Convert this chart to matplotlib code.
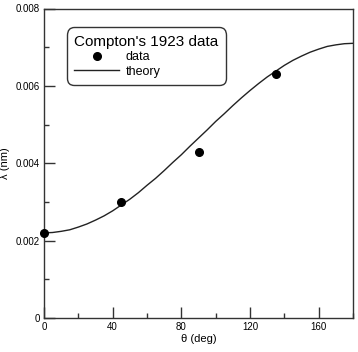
import matplotlib
matplotlib.use("Agg")
import matplotlib.pyplot as plt
from matplotlib.ticker import MultipleLocator

plt.rcParams['font.family'] = ['Liberation Sans', 'DejaVu Sans']

# Compton's 1923 measurements
angle_deg = [0, 45, 90, 135]
wavelength_nm = [0.0022, 0.0030, 0.0043, 0.0063]

# theory curve, every 5 degrees
theory_deg = [0, 5, 10, 15, 20, 25, 30, 35, 40, 45, 50, 55, 60, 65, 70, 75,
              80, 85, 90, 95, 100, 105, 110, 115, 120, 125, 130, 135, 140,
              145, 150, 155, 160, 165, 170, 175, 180]
theory_nm = [0.00220, 0.00221, 0.00224, 0.00228, 0.00235, 0.00243, 0.00253,
             0.00264, 0.00277, 0.00292, 0.00307, 0.00324, 0.00343, 0.00361,
             0.00381, 0.00402, 0.00422, 0.00444, 0.00465, 0.00486, 0.00508,
             0.00528, 0.00549, 0.00569, 0.00588, 0.00606, 0.00623, 0.00638,
             0.00653, 0.00666, 0.00677, 0.00687, 0.00695, 0.00702, 0.00706,
             0.00709, 0.00710]

fig = plt.figure(figsize=(3.58, 3.52), dpi=100)
ax = fig.add_axes([44 / 358, 34 / 352, 309 / 358, 309.5 / 352])

ax.plot(theory_deg, theory_nm, color='#222222', lw=1.0, label='theory')
ax.plot(angle_deg, wavelength_nm, 'o', color='black', ms=5.5, clip_on=False,
        label='data', zorder=3)

ax.set_xlim(0, 180)
ax.set_ylim(0, 0.008)
ax.xaxis.set_major_locator(MultipleLocator(40))
ax.xaxis.set_minor_locator(MultipleLocator(20))
ax.yaxis.set_major_locator(MultipleLocator(0.002))
ax.yaxis.set_minor_locator(MultipleLocator(0.001))
ax.xaxis.set_major_formatter(plt.FuncFormatter(lambda v, p: f'{v:g}'))
ax.yaxis.set_major_formatter(plt.FuncFormatter(lambda v, p: '0' if v == 0 else f'{v:.3f}'))

ax.tick_params(which='both', direction='in', top=False, right=False,
               labelsize=7, color='#333333', pad=3)
ax.tick_params(which='major', length=8, width=1)
ax.tick_params(which='minor', length=3.5, width=1)
for s in ax.spines.values():
    s.set_color('#333333')
    s.set_linewidth(1)

ax.set_xlabel('θ (deg)', fontsize=8, labelpad=1)
ax.set_ylabel('λ (nm)', fontsize=8, labelpad=4)

handles, labels = ax.get_legend_handles_labels()
leg = ax.legend(handles[::-1], labels[::-1], title="Compton's 1923 data",
                loc='upper left', bbox_to_anchor=(0.0744, 0.940),
                borderaxespad=0, fontsize=9, title_fontsize=11,
                frameon=True, fancybox=True, framealpha=1,
                edgecolor='#333333', handlelength=3.6, borderpad=0.6,
                labelspacing=0.2, handletextpad=0.5)
leg.get_frame().set_linewidth(1)
leg.get_frame().set_boxstyle('round', pad=0, rounding_size=0.6)
leg._legend_box.align = 'left'

fig.savefig('out.png', dpi=100)
